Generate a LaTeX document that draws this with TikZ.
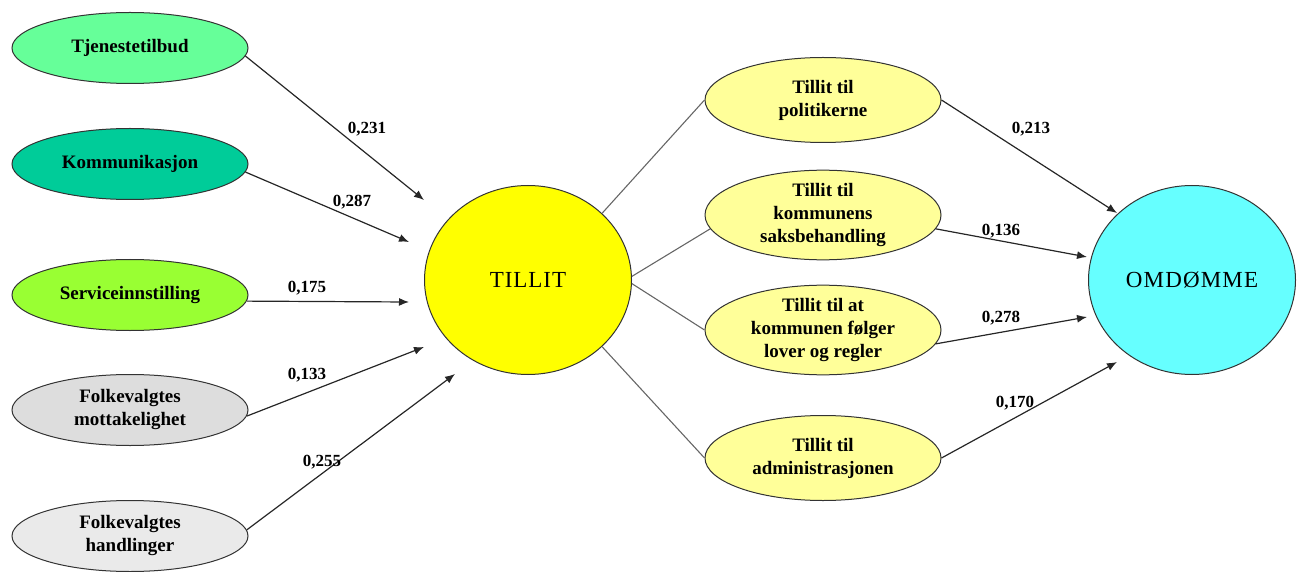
\documentclass[tikz,border=0pt]{standalone}
\usepackage{fontspec}
\setmainfont{Liberation Serif}
\usetikzlibrary{shapes.geometric,arrows.meta}
\definecolor{cTj}{HTML}{66FF99}
\definecolor{cKo}{HTML}{00CC99}
\definecolor{cSe}{HTML}{99FF33}
\definecolor{cFm}{HTML}{DDDDDD}
\definecolor{cFh}{HTML}{EAEAEA}
\definecolor{cTi}{HTML}{FFFF00}
\definecolor{cRt}{HTML}{FFFF99}
\definecolor{cOm}{HTML}{66FFFF}
\begin{document}
\begin{tikzpicture}[x=0.5pt,y=-0.5pt,
  leftnode/.style={ellipse,draw=black!80,line width=0.5pt,minimum width=118pt,minimum height=35.5pt,inner sep=0pt,align=center,font=\bfseries\fontsize{9.5}{11.5}\selectfont},
  rightnode/.style={ellipse,draw=black!80,line width=0.5pt,fill=cRt,minimum width=118pt,minimum height=42.5pt,inner sep=0pt,align=center,font=\bfseries\fontsize{9.5}{11.5}\selectfont},
  bignode/.style={ellipse,draw=black!80,line width=0.5pt,minimum width=103.5pt,minimum height=94.5pt,inner sep=0pt},
  wt/.style={inner sep=0pt,font=\bfseries\fontsize{8.5}{10}\selectfont},
  arr/.style={draw=black!85,line width=0.6pt,-{Latex[length=5pt,width=4pt]}},
  ln/.style={draw=black!60,line width=0.55pt}]
\useasboundingbox (0,0) rectangle (1300,572);
% left nodes
\node[leftnode,fill=cTj] (n1) at (130,48) {Tjenestetilbud};
\node[leftnode,fill=cKo] (n2) at (130,164) {Kommunikasjon};
\node[leftnode,fill=cSe] (n3) at (130,295) {Serviceinnstilling};
\node[leftnode,fill=cFm] (n4) at (130,410) {Folkevalgtes\\mottakelighet};
\node[leftnode,fill=cFh] (n5) at (130,536) {Folkevalgtes\\handlinger};
% centre
\node[bignode,fill=cTi,font=\fontsize{11.5}{13}\selectfont\addfontfeature{LetterSpace=4}] (T) at (528,280) {TILLIT};
% right ellipses
\node[rightnode] (p1) at (823,100) {Tillit til\\politikerne};
\node[rightnode] (p2) at (823,215) {Tillit til\\kommunens\\saksbehandling};
\node[rightnode] (p3) at (823,330) {Tillit til at\\kommunen følger\\lover og regler};
\node[rightnode] (p4) at (823,458) {Tillit til\\administrasjonen};
% OMDOMME
\node[bignode,fill=cOm,font=\fontsize{11.5}{13}\selectfont\addfontfeature{LetterSpace=5}] (O) at (1192,280) {OMDØMME};
% arrow tips
\coordinate (t1) at (424,200);
\coordinate (t2) at (409,242);
\coordinate (t3) at (409,302);
\coordinate (t4) at (424,347);
\coordinate (t5) at (455,374);
\coordinate (u1) at (1117,213);
\coordinate (u2) at (1087,257);
\coordinate (u3) at (1087,317);
\coordinate (u4) at (1117,362);
% left arrows
\draw[arr] (n1.-4) -- (t1);
\draw[arr] (n2.-4) -- (t2);
\draw[arr] (n3.-3) -- (t3);
\draw[arr] (n4.-3) -- (t4);
\draw[arr] (n5.3) -- (t5);
% lines TILLIT -> right ellipses
\draw[ln] (T.42.6) -- (p1.west);
\draw[ln] (T.2) -- (p2.187);
\draw[ln] (T.-2) -- (p3.west);
\draw[ln] (T.-42.6) -- (p4.west);
% right arrows
\draw[arr] (p1.east) -- (u1);
\draw[arr] (p2.-7) -- (u2);
\draw[arr] (p3.-7) -- (u3);
\draw[arr] (p4.east) -- (u4);
% weights
\node[wt] (w1) at (367,129) {0,231};
\node[wt] (w2) at (352,202) {0,287};
\node[wt] (w3) at (307,288) {0,175};
\node[wt] (w4) at (307,375) {0,133};
\node[wt] (w5) at (322,462) {0,255};
\node[wt] (w6) at (1031,129) {0,213};
\node[wt] (w7) at (1001,231) {0,136};
\node[wt] (w8) at (1001,318) {0,278};
\node[wt] (w9) at (1015,403) {0,170};
\end{tikzpicture}
\end{document}
